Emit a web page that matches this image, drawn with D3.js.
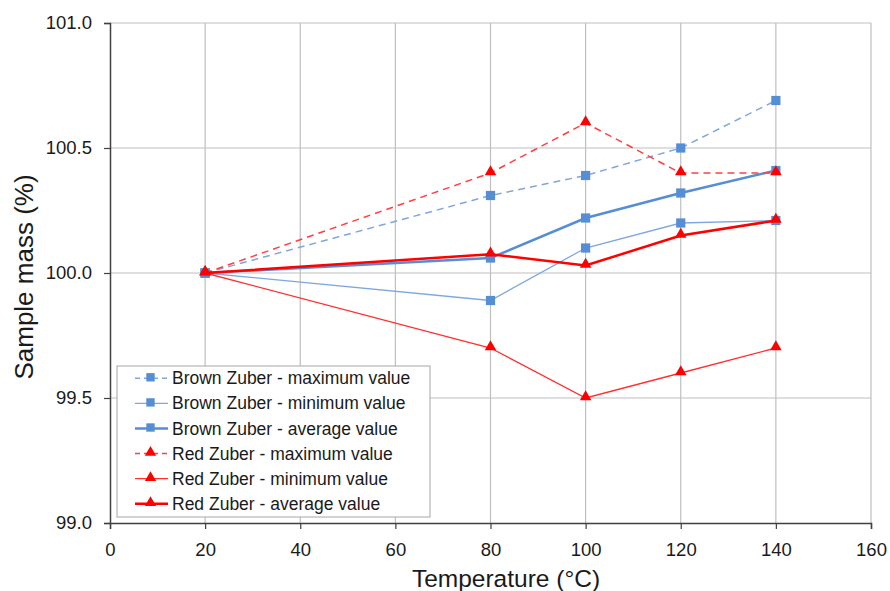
<!DOCTYPE html>
<html>
<head>
<meta charset="utf-8">
<script src="https://cdn.jsdelivr.net/npm/d3@7"></script>
<style>
  body { margin: 0; background: #fff; }
  text { font-family: "Liberation Sans", Arial, sans-serif; fill: #1a1a1a; }
</style>
</head>
<body>
<div class="chart"></div>
<script>
var svgWidth = 890;
var svgHeight = 591;

var margin = { top: 23, right: 19, bottom: 68, left: 110 };
var width = svgWidth - margin.left - margin.right;
var height = svgHeight - margin.top - margin.bottom;

// data
var temps = [20, 80, 100, 120, 140];
var brownMax = [100.00, 100.31, 100.39, 100.50, 100.69];
var brownMin = [100.00, 99.89, 100.10, 100.20, 100.21];
var brownAvg = [100.00, 100.06, 100.22, 100.32, 100.41];
var redMax = [100.00, 100.40, 100.60, 100.40, 100.40];
var redMin = [100.00, 99.70, 99.50, 99.60, 99.70];
var redAvg = [100.00, 100.075, 100.03, 100.15, 100.21];

var xTicks = [0, 20, 40, 60, 80, 100, 120, 140, 160];
var yTicks = [99.0, 99.5, 100.0, 100.5, 101.0];

var series = [
  { name: "Brown Zuber - maximum value", values: brownMax, color: "#7fa7dd", width: 1.5, dash: "7,5", marker: "square", mcolor: "#558ed5" },
  { name: "Brown Zuber - minimum value", values: brownMin, color: "#7fa7dd", width: 1.3, dash: null, marker: "square", mcolor: "#558ed5" },
  { name: "Brown Zuber - average value", values: brownAvg, color: "#558ed5", width: 2.5, dash: null, marker: "square", mcolor: "#558ed5" },
  { name: "Red Zuber - maximum value", values: redMax, color: "#ff4040", width: 1.5, dash: "7,5", marker: "triangle", mcolor: "#ff0000" },
  { name: "Red Zuber - minimum value", values: redMin, color: "#ff3030", width: 1.3, dash: null, marker: "triangle", mcolor: "#ff0000" },
  { name: "Red Zuber - average value", values: redAvg, color: "#ff0000", width: 2.5, dash: null, marker: "triangle", mcolor: "#ff0000" }
];

var svg = d3.select(".chart")
  .append("svg")
  .attr("width", svgWidth)
  .attr("height", svgHeight);

var chartGroup = svg.append("g")
  .attr("transform", `translate(${margin.left}, ${margin.top})`);

var xScale = d3.scaleLinear().domain([0, 160]).range([0, width]);
var yScale = d3.scaleLinear().domain([99, 101]).range([height, 0]);

// gridlines
chartGroup.append("g")
  .selectAll("line.vgrid")
  .data(xTicks.slice(1))
  .enter().append("line")
  .attr("x1", d => xScale(d)).attr("x2", d => xScale(d))
  .attr("y1", 0).attr("y2", height)
  .attr("stroke", "#bfbfbf").attr("stroke-width", 1.2);

chartGroup.append("g")
  .selectAll("line.hgrid")
  .data(yTicks.slice(1))
  .enter().append("line")
  .attr("x1", 0).attr("x2", width)
  .attr("y1", d => yScale(d)).attr("y2", d => yScale(d))
  .attr("stroke", "#bfbfbf").attr("stroke-width", 1.2);

// axes
var bottomAxis = d3.axisBottom(xScale).tickValues(xTicks).tickSize(6).tickPadding(14).tickFormat(d3.format("d"));
var leftAxis = d3.axisLeft(yScale).tickValues(yTicks).tickSize(6).tickPadding(12).tickFormat(d3.format(".1f"));

var xAxis = chartGroup.append("g")
  .attr("transform", `translate(0, ${height})`)
  .call(bottomAxis);
var yAxis = chartGroup.append("g").call(leftAxis);

[xAxis, yAxis].forEach(function(ax) {
  ax.select(".domain").attr("stroke", "#404040").attr("stroke-width", 1.5);
  ax.selectAll(".tick line").attr("stroke", "#404040").attr("stroke-width", 1.2);
  ax.selectAll(".tick text").style("font-size", "18.5px").attr("fill", "#1a1a1a")
    .style("font-family", "'Liberation Sans', Arial, sans-serif");
});

// axis titles
svg.append("text")
  .attr("x", 506)
  .attr("y", 587)
  .attr("text-anchor", "middle")
  .style("font-size", "24.5px")
  .text("Temperature (°C)");

svg.append("text")
  .attr("transform", "translate(33, 277) rotate(-90)")
  .attr("text-anchor", "middle")
  .style("font-size", "26px")
  .text("Sample mass (%)");

var line = d3.line()
  .x((d, i) => xScale(temps[i]))
  .y(d => yScale(d));

var sqSymbol = d3.symbol().type(d3.symbolSquare).size(85);
var triSymbol = d3.symbol().type(d3.symbolTriangle).size(58);

series.forEach(function(s) {
  chartGroup.append("path")
    .datum(s.values)
    .attr("fill", "none")
    .attr("stroke", s.color)
    .attr("stroke-width", s.width)
    .attr("stroke-dasharray", s.dash)
    .attr("d", line);

  chartGroup.selectAll(null)
    .data(s.values)
    .enter().append("path")
    .attr("d", s.marker === "square" ? sqSymbol : triSymbol)
    .attr("transform", (d, i) => `translate(${xScale(temps[i])}, ${yScale(d) + (s.marker === "triangle" ? -1 : 0)})`)
    .attr("fill", s.mcolor);
});

// legend
var legend = svg.append("g").attr("transform", "translate(117, 366)");
legend.append("rect")
  .attr("width", 313).attr("height", 151)
  .attr("fill", "#fff").attr("stroke", "#a6a6a6").attr("stroke-width", 1);

series.forEach(function(s, i) {
  var row = legend.append("g").attr("transform", `translate(0, ${12.3 + i * 25.1})`);
  row.append("line")
    .attr("x1", 18).attr("x2", 51).attr("y1", 0).attr("y2", 0)
    .attr("stroke", s.color).attr("stroke-width", s.width)
    .attr("stroke-dasharray", s.dash ? "5,4" : null);
  row.append("path")
    .attr("d", s.marker === "square" ? sqSymbol.size(70)() : triSymbol.size(55)())
    .attr("transform", "translate(33.5, -1)")
    .attr("fill", s.mcolor);
  row.append("text")
    .attr("x", 55).attr("y", 6)
    .style("font-size", "17.5px")
    .text(s.name);
});
</script>
</body>
</html>
